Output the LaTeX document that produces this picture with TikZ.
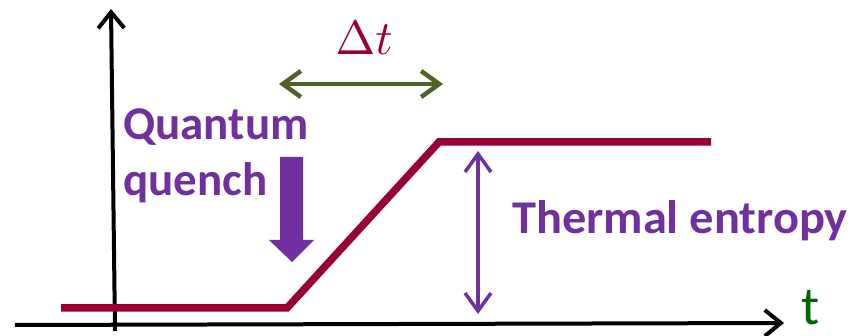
\documentclass[tikz,border=0pt]{standalone}
\usepackage{fontspec}
\setmainfont{Carlito}
\usetikzlibrary{arrows.meta}
\definecolor{crim}{HTML}{990033}
\definecolor{purp}{HTML}{7030A0}
\definecolor{olive}{HTML}{4F6228}
\definecolor{tgreen}{HTML}{006600}
\begin{document}
\begin{tikzpicture}[x=1pt,y=-1pt,
  axis/.style={line width=4pt,black,-{Straight Barb[length=16pt,width=26pt,line width=4pt]}},
  dbl/.style={line width=#1,{Straight Barb[length=18pt,width=26pt]}-{Straight Barb[length=18pt,width=26pt]}},
  lbl/.style={font=\fontsize{47}{56}\selectfont\bfseries,text=purp,inner sep=0pt}]
\useasboundingbox (0,0) rectangle (859,336);
% axes
\coordinate (xs) at (15,325);
\coordinate (xe) at (784,323);
\coordinate (ys) at (115,331);
\coordinate (ye) at (111,9);
\draw[axis] (xs) -- (xe);
\draw[axis] (ys) -- (ye);
% curve
\coordinate (c0) at (61,308);
\coordinate (c1) at (287,308);
\coordinate (c2) at (439,142);
\coordinate (c3) at (711,142);
\draw[crim,line width=7.5pt,line join=miter] (c0) -- (c1) -- (c2) -- (c3);
% delta t
\coordinate (d0) at (279,84);
\coordinate (d1) at (443,84);
\draw[olive,dbl=4.5pt] (d0) -- (d1);
\node[text=crim,scale=4.8,inner sep=0pt] (dt) at (364,38) {$\Delta t$};
% quantum quench
\node[lbl,anchor=base west,align=left] (q1) at (123,140) {Quantum};
\node[lbl,anchor=base west,align=left] (q2) at (123,196) {quench};
\fill[purp] (280,157) -- (303,157) -- (303,240) -- (314,240) -- (292,262) -- (269,240) -- (280,240) -- cycle;
% thermal entropy
\coordinate (e0) at (478,151);
\coordinate (e1) at (478,314);
\draw[purp,dbl=3.5pt] (e0) -- (e1);
\node[lbl,anchor=base west,xscale=1.03] (te) at (512,234) {Thermal entropy};
% t label
\node[text=tgreen,font=\fontsize{54}{60}\selectfont,anchor=base west,inner sep=0pt] (t) at (801,325) {t};
\end{tikzpicture}
\end{document}
